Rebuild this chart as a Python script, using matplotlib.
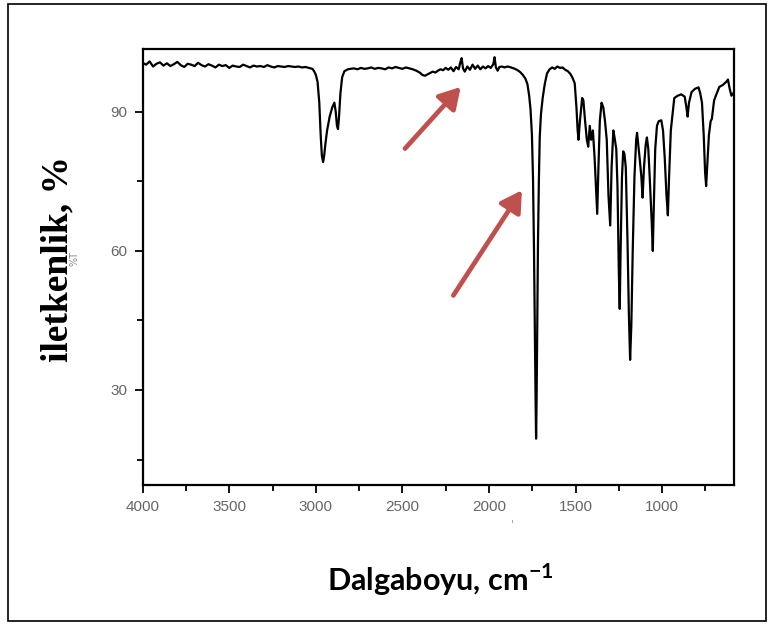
import matplotlib
matplotlib.use('Agg')
import matplotlib.pyplot as plt
from matplotlib.patches import Rectangle
from matplotlib.ticker import MultipleLocator

# IR spektrumu: dalga sayisi (cm-1) ve iletkenlik (%)
wn_base = list(range(4000, 3000, -20))
t_base = [100.6, 100.2, 100.9, 99.8, 100.4, 100.7, 100.0, 100.5, 99.9, 100.3,
          100.8, 100.1, 99.7, 100.4, 100.2, 99.9, 100.6, 100.1, 99.8, 100.3,
          100.0, 99.6, 100.2, 99.9, 100.1, 99.5, 100.0, 99.8, 99.7, 100.2,
          99.9, 99.6, 100.0, 99.8, 99.9, 99.7, 100.1, 99.8, 99.6, 99.9,
          99.8, 99.7, 99.9, 99.8, 99.7, 99.8, 99.6, 99.7, 99.5, 99.3]

wn_ch = [3010, 3000, 2990, 2980, 2972, 2965, 2958, 2952, 2945, 2935, 2920, 2905,
         2893, 2885, 2878, 2872, 2866, 2858, 2848, 2835, 2815, 2800]
t_ch = [98.8, 98.0, 96.5, 92.0, 85.0, 80.5, 79.2, 80.5, 83.0, 86.0, 89.0, 91.0,
        92.0, 90.0, 87.0, 86.3, 89.0, 94.0, 97.5, 98.8, 99.2, 99.3]

wn_mid = list(range(2780, 2400, -20)) + [
    2400, 2385, 2370, 2355, 2340, 2325, 2310, 2295, 2280, 2265, 2250, 2235, 2220,
    2205, 2190, 2175, 2165, 2158, 2150, 2140, 2125, 2110, 2095, 2080, 2065, 2050,
    2035, 2020, 2005, 1990, 1975, 1968, 1960, 1950, 1940, 1925, 1910, 1895, 1880,
    1865, 1850, 1835, 1820, 1805, 1790, 1778, 1768, 1760, 1752, 1746, 1740, 1735,
    1731, 1728, 1725, 1721, 1717, 1712, 1707, 1700, 1690, 1678, 1665, 1650, 1635,
    1620, 1605, 1590, 1575, 1560, 1545, 1530, 1518, 1505, 1495, 1488]
t_mid = [99.4, 99.2, 99.5, 99.3, 99.4, 99.6, 99.3, 99.5, 99.4, 99.2,
         99.6, 99.4, 99.7, 99.5, 99.3, 99.6, 99.4, 99.2, 98.9,
         98.5, 98.0, 97.8, 98.1, 98.4, 98.7, 98.5, 98.9, 99.2, 99.0, 99.5, 99.1, 99.6,
         98.8, 99.7, 99.2, 100.8, 101.6, 99.4, 98.7, 99.8, 99.1, 100.2, 99.3, 100.0, 99.2,
         99.8, 99.4, 99.9, 99.5, 100.3, 101.8, 99.6, 98.9, 99.7, 99.8, 99.6, 99.8, 99.7,
         99.5, 99.3, 99.0, 98.6, 98.0, 97.2, 96.0, 93.5, 90.5, 85.0, 76.0, 60.0, 42.0,
         28.0, 19.5, 28.0, 45.0, 62.0, 75.0, 84.5, 89.5, 93.0, 96.0, 98.3, 99.2, 99.6,
         99.3, 99.8, 99.5, 99.6, 99.1, 98.8, 98.2, 97.4, 96.2, 91.0, 86.0]

wn_fp = [1483, 1475, 1462, 1455, 1445, 1435, 1427, 1418, 1410, 1400, 1390, 1380,
         1375, 1368, 1360, 1350, 1340, 1330, 1320, 1310, 1300, 1292, 1282, 1275,
         1265, 1258, 1250, 1245, 1240, 1232, 1225, 1218, 1210, 1200, 1192, 1185,
         1178, 1170, 1160, 1150, 1145, 1138, 1130, 1120, 1113, 1105, 1095, 1088,
         1080, 1072, 1060, 1054, 1048, 1040, 1030, 1020, 1005, 995, 985, 975,
         967, 960, 950, 940, 930, 910, 890, 870, 860, 853, 845, 830, 810, 790,
         780, 770, 760, 752, 746, 740, 730, 720, 713, 700, 690, 670, 650, 630,
         620, 610, 600, 590]
t_fp = [84.0, 88.0, 93.0, 92.5, 88.0, 84.0, 82.5, 87.0, 84.0, 86.0, 80.0, 72.0,
        68.0, 78.0, 88.0, 92.0, 91.0, 88.0, 84.0, 72.0, 65.5, 78.0, 86.0, 84.5,
        82.0, 74.0, 55.0, 47.5, 60.0, 76.0, 81.5, 81.0, 78.0, 62.0, 46.0, 36.5,
        44.0, 60.0, 76.0, 84.0, 85.5, 83.0, 80.0, 76.0, 71.5, 78.0, 83.0, 84.5,
        82.0, 76.0, 66.0, 60.0, 70.0, 82.0, 87.0, 88.0, 88.2, 86.0, 80.0, 72.0,
        67.7, 76.0, 86.0, 89.5, 93.0, 93.5, 93.8, 93.3, 91.0, 89.0, 92.0, 94.3,
        95.0, 95.3, 94.0, 92.0, 85.0, 77.0, 74.0, 78.0, 85.0, 88.0, 88.5, 92.5,
        93.5, 95.4, 95.8, 96.5, 97.0, 95.0, 93.5, 94.0]

wn = wn_base + wn_ch + wn_mid + wn_fp
tr = t_base + t_ch + t_mid + t_fp

x_ticks = [4000, 3500, 3000, 2500, 2000, 1500, 1000]
y_ticks = [30, 60, 90]

plt.rcParams['mathtext.fontset'] = 'custom'
plt.rcParams['mathtext.rm'] = 'Lato:bold'

fig = plt.figure(figsize=(7.72, 6.25), dpi=100)
ax = fig.add_axes([0.1848, 0.224, 0.766, 0.697])

ax.plot(wn, tr, color='black', linewidth=1.6)

ax.set_xlim(4000, 585)
ax.set_ylim(9.5, 103.5)
ax.set_xticks(x_ticks)
ax.set_yticks(y_ticks)
ax.xaxis.set_minor_locator(MultipleLocator(250))
ax.yaxis.set_minor_locator(MultipleLocator(15))
ax.tick_params(which='both', direction='out', width=1.3, colors='black',
               labelcolor='#666666', labelsize=11, top=False, right=False)
ax.tick_params(which='major', length=6, pad=5)
ax.tick_params(which='minor', length=4)
for lab in ax.get_xticklabels() + ax.get_yticklabels():
    lab.set_family('Liberation Sans')
for s in ax.spines.values():
    s.set_linewidth(1.6)

# oklar
okrenk = '#c0504d'
ax.annotate('', xy=(2163, 95.4), xytext=(2485, 82.1),
            arrowprops=dict(arrowstyle='-|>,head_length=0.6,head_width=0.35',
                            color=okrenk, lw=3.4, mutation_scale=21,
                            shrinkA=0, shrinkB=0))
ax.annotate('', xy=(1810, 73.1), xytext=(2206, 50.4),
            arrowprops=dict(arrowstyle='-|>,head_length=0.6,head_width=0.35',
                            color=okrenk, lw=3.4, mutation_scale=21,
                            shrinkA=0, shrinkB=0))

# eksen yazilari
fig.text(74 / 772, 1 - 258 / 625, '%T', rotation=90, ha='center', va='center',
         fontsize=7, color='#888888')
fig.text(58 / 772, 1 - 259 / 625, 'iletkenlik, %', rotation=90, ha='center',
         va='center', fontsize=27, fontweight='bold', family='Liberation Serif')
fig.text(440 / 772, 1 - 580 / 625, 'Dalgaboyu, cm$^{-1}$', ha='center',
         va='center', fontsize=22, fontweight='bold', family='Lato')
fig.text(512 / 772, 1 - 524 / 625, "'", ha='center', va='center',
         fontsize=8, color='#999999')

# dis cerceve
fig.patches.append(Rectangle((8 / 772, 4 / 625), 758 / 772, 617 / 625,
                             transform=fig.transFigure, fill=False,
                             edgecolor='black', linewidth=1.2))

fig.savefig('out.png', dpi=100)
